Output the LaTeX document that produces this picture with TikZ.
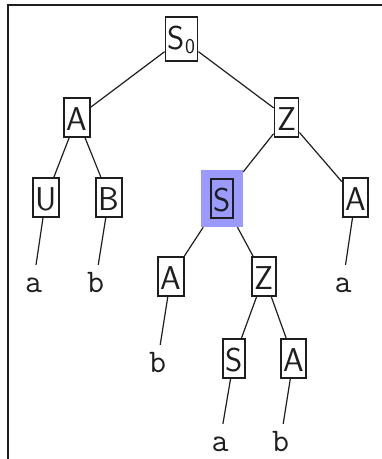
\documentclass[tikz,border=0pt]{standalone}
\usepackage{fontspec}
\definecolor{hlblue}{RGB}{155,155,255}
\definecolor{ink}{RGB}{30,30,30}
\begin{document}
\begin{tikzpicture}[x=1pt,y=-1pt,
  box/.style={draw=ink, line width=1.8pt, text=ink, font=\sffamily\fontsize{33}{36}\selectfont,
    inner xsep=2.5pt, inner ysep=3pt, text height=29pt, text depth=4pt, anchor=base},
  leaf/.style={text=ink, font=\ttfamily\fontsize{33}{36}\selectfont, inner sep=3pt,
    text height=24pt, text depth=4pt, anchor=base},
  hl/.style={fill=hlblue, draw=none, minimum width=42pt, minimum height=57pt, inner sep=0pt},
  conn/.style={draw=ink, line width=1.2pt}]
\useasboundingbox (0,0) rectangle (382,459);
\draw[ink, line width=1.6pt] (8,459) -- (8,5) -- (382,5);
% boxes
\node[box, text depth=9pt] (s0) at (181.5,49) {S\raisebox{-4pt}{\fontsize{21}{21}\selectfont 0}};
\node[box] (a1) at (77,130) {A};
\node[box] (z1) at (286.5,130) {Z};
\node[box] (u) at (46,210) {U};
\node[box] (b) at (109,210) {B};
\node[hl] (s) at (222,198.5) {};
\node[box, anchor=center] (sb) at (s.center) {S};
\node[box] (a2) at (355.5,210) {A};
\node[box] (a3) at (171,289) {A};
\node[box] (z3) at (264,289) {Z};
\node[box] (s4) at (234,371) {S};
\node[box] (a4) at (293.5,371) {A};
% leaves
\node[leaf] (la1) at (33.5,292) {a};
\node[leaf] (lb1) at (95.5,292) {b};
\node[leaf] (la2) at (343,292) {a};
\node[leaf] (lb3) at (157.5,372) {b};
\node[leaf] (la4) at (220,451) {a};
\node[leaf] (lb4) at (280.5,451) {b};
% connectors
\draw[conn] (s0) -- (a1);
\draw[conn] (s0) -- (z1);
\draw[conn] (a1) -- (u);
\draw[conn] (a1) -- (b);
\draw[conn] (z1) -- (s);
\draw[conn] (z1) -- (a2);
\draw[conn] (u) -- (la1);
\draw[conn] (b) -- (lb1);
\draw[conn] (a2) -- (la2);
\draw[conn] (s) -- (a3);
\draw[conn] (s) -- (z3);
\draw[conn] (a3) -- (lb3);
\draw[conn] (z3) -- (s4);
\draw[conn] (z3) -- (a4);
\draw[conn] (s4) -- (la4);
\draw[conn] (a4) -- (lb4);
\end{tikzpicture}
\end{document}
